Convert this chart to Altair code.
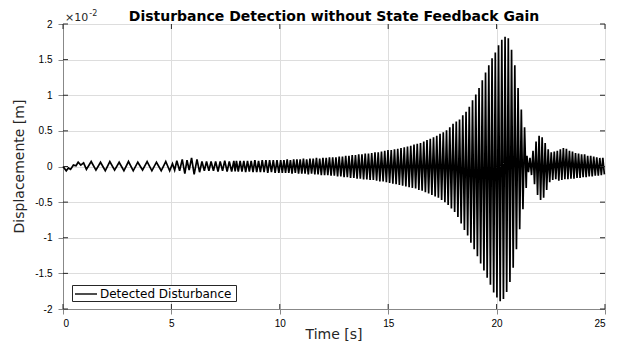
import altair as alt
import pandas as pd

# ---- data (units of 1e-2 m) ----
# 0-5 s: start-up wiggle and slow oscillation (extrema)
t_a = [0.00, 0.15, 0.25, 0.35, 0.48, 0.60, 0.70, 0.82, 0.95, 1.08, 1.30, 1.52, 1.73, 1.95,
       2.16, 2.38, 2.59, 2.81, 3.02, 3.24, 3.45, 3.67, 3.88, 4.10, 4.31, 4.53, 4.74, 4.92]
y_a = [0.00, -0.06, -0.02, -0.04, 0.02, 0.01, 0.06, 0.02, 0.05, -0.04, 0.07, -0.05, 0.06, -0.06,
       0.07, -0.05, 0.06, -0.06, 0.07, -0.06, 0.06, -0.05, 0.07, -0.06, 0.06, -0.06, 0.07, -0.06]

# 5-8 s: irregular burst then faster oscillation
t_b = [5.05, 5.15, 5.25, 5.38, 5.50, 5.62, 5.72, 5.82, 5.93, 6.05, 6.18, 6.30, 6.41, 6.52,
       6.62, 6.73, 6.83, 6.94, 7.04, 7.15, 7.25, 7.36, 7.46, 7.57, 7.67, 7.78, 7.88, 7.94]
y_b = [0.04, -0.05, 0.08, -0.06, 0.10, -0.10, 0.09, -0.05, 0.12, -0.11, 0.10, -0.08, 0.07, -0.06,
       0.07, -0.06, 0.07, -0.06, 0.07, -0.07, 0.07, -0.06, 0.08, -0.07, 0.07, -0.07, 0.08, -0.07]

# 8-10 s
t_c = [8.00, 8.085, 8.17, 8.255, 8.34, 8.425, 8.51, 8.595, 8.68, 8.765, 8.85, 8.935,
       9.02, 9.105, 9.19, 9.275, 9.36, 9.445, 9.53, 9.615, 9.70, 9.785, 9.87, 9.955]
y_c = [0.08, -0.07, 0.08, -0.07, 0.08, -0.08, 0.08, -0.07, 0.08, -0.08, 0.09, -0.08,
       0.08, -0.08, 0.09, -0.08, 0.09, -0.09, 0.09, -0.08, 0.09, -0.09, 0.09, -0.09]

# 10-21.4 s: growing resonance (peaks and troughs)
peak_t_d = [10.04, 10.19, 10.34, 10.49, 10.64, 10.79, 10.94, 11.09, 11.24, 11.39,
            11.54, 11.69, 11.84, 11.99, 12.14, 12.29, 12.44, 12.59, 12.74, 12.89,
            13.04, 13.19, 13.34, 13.49, 13.64, 13.79, 13.94, 14.09, 14.24, 14.39,
            14.54, 14.69, 14.84, 14.99, 15.14, 15.29, 15.44, 15.59, 15.74, 15.89,
            16.04, 16.19, 16.34, 16.49, 16.64, 16.79, 16.94, 17.09, 17.24, 17.39,
            17.54, 17.69, 17.84, 17.99, 18.14, 18.29, 18.44, 18.59, 18.74, 18.89,
            19.04, 19.19, 19.34, 19.49, 19.64, 19.79, 19.94, 20.09, 20.24, 20.39,
            20.54, 20.69, 20.84, 20.99, 21.14, 21.29]
peak_y_d = [0.09, 0.09, 0.10, 0.09, 0.10, 0.10, 0.10, 0.11, 0.10, 0.11,
            0.11, 0.12, 0.11, 0.12, 0.12, 0.13, 0.13, 0.13, 0.14, 0.14,
            0.15, 0.15, 0.16, 0.16, 0.17, 0.17, 0.18, 0.18, 0.19, 0.20,
            0.20, 0.21, 0.22, 0.23, 0.23, 0.24, 0.25, 0.26, 0.27, 0.28,
            0.29, 0.31, 0.32, 0.33, 0.35, 0.37, 0.39, 0.41, 0.43, 0.46,
            0.48, 0.51, 0.55, 0.60, 0.63, 0.66, 0.72, 0.77, 0.84, 0.93,
            1.01, 1.10, 1.21, 1.32, 1.42, 1.52, 1.60, 1.70, 1.78, 1.82,
            1.80, 1.64, 1.42, 1.10, 0.80, 0.55]
trough_t_d = [10.115, 10.265, 10.415, 10.565, 10.715, 10.865, 11.015, 11.165, 11.315, 11.465,
              11.615, 11.765, 11.915, 12.065, 12.215, 12.365, 12.515, 12.665, 12.815, 12.965,
              13.115, 13.265, 13.415, 13.565, 13.715, 13.865, 14.015, 14.165, 14.315, 14.465,
              14.615, 14.765, 14.915, 15.065, 15.215, 15.365, 15.515, 15.665, 15.815, 15.965,
              16.115, 16.265, 16.415, 16.565, 16.715, 16.865, 17.015, 17.165, 17.315, 17.465,
              17.615, 17.765, 17.915, 18.065, 18.215, 18.365, 18.515, 18.665, 18.815, 18.965,
              19.115, 19.265, 19.415, 19.565, 19.715, 19.865, 20.015, 20.165, 20.315, 20.465,
              20.615, 20.765, 20.915, 21.065, 21.215, 21.365]
trough_y_d = [-0.09, -0.09, -0.09, -0.10, -0.09, -0.10, -0.10, -0.10, -0.11, -0.10,
              -0.11, -0.11, -0.12, -0.12, -0.12, -0.13, -0.13, -0.14, -0.14, -0.15,
              -0.15, -0.16, -0.16, -0.17, -0.17, -0.18, -0.18, -0.19, -0.19, -0.20,
              -0.21, -0.21, -0.22, -0.23, -0.24, -0.25, -0.26, -0.27, -0.28, -0.29,
              -0.30, -0.31, -0.33, -0.34, -0.36, -0.38, -0.40, -0.42, -0.44, -0.47,
              -0.50, -0.54, -0.59, -0.64, -0.71, -0.80, -0.89, -0.97, -1.07, -1.16,
              -1.26, -1.36, -1.46, -1.56, -1.66, -1.77, -1.84, -1.89, -1.86, -1.76,
              -1.62, -1.42, -1.16, -0.88, -0.60, -0.30]

# 21.4-25 s: after-burst bump and decay
peak_t_e = [21.40, 21.54, 21.68, 21.82, 21.96, 22.10, 22.24, 22.38, 22.52, 22.66, 22.80, 22.94, 23.08,
            23.22, 23.36, 23.50, 23.64, 23.78, 23.92, 24.06, 24.20, 24.34, 24.48, 24.62, 24.76, 24.90]
peak_y_e = [0.15, 0.12, 0.22, 0.35, 0.43, 0.41, 0.33, 0.24, 0.20, 0.21, 0.22, 0.24, 0.26,
            0.25, 0.22, 0.21, 0.19, 0.18, 0.17, 0.17, 0.15, 0.15, 0.14, 0.13, 0.12, 0.12]
trough_t_e = [21.47, 21.61, 21.75, 21.89, 22.03, 22.17, 22.31, 22.45, 22.59, 22.73, 22.87, 23.01, 23.15,
              23.29, 23.43, 23.57, 23.71, 23.85, 23.99, 24.13, 24.27, 24.41, 24.55, 24.69, 24.83, 24.97]
trough_y_e = [-0.08, -0.12, -0.25, -0.40, -0.47, -0.44, -0.33, -0.22, -0.19, -0.18, -0.20, -0.19, -0.18,
              -0.18, -0.17, -0.17, -0.16, -0.16, -0.15, -0.15, -0.14, -0.14, -0.13, -0.13, -0.12, -0.11]

x_ticks = [0, 5, 10, 15, 20, 25]
y_ticks = [-2, -1.5, -1, -0.5, 0, 0.5, 1, 1.5, 2]
series_name = "Detected Disturbance"
title_text = "Disturbance Detection without State Feedback Gain"
x_title = "Time [s]"
y_title = "Displacemente [m]"

ts = t_a + t_b + t_c + peak_t_d + trough_t_d + peak_t_e + trough_t_e
vs = y_a + y_b + y_c + peak_y_d + trough_y_d + peak_y_e + trough_y_e
df = pd.DataFrame({"t": ts, "y": vs}).sort_values("t").reset_index(drop=True)

FONT = "DejaVu Sans"
AX = "#262626"
W, H = 542, 285

xs = alt.Scale(domain=[0, 25], nice=False, zero=False)
ysc = alt.Scale(domain=[-2, 2], nice=False, zero=False)
x_axis = alt.Axis(values=x_ticks, format="~g", labelPadding=4, labelOverlap=False)
y_axis = alt.Axis(values=y_ticks, format="~g", labelPadding=6, labelOverlap=False)
X = alt.X("t:Q", scale=xs, title=None, axis=x_axis)
Y = alt.Y("y:Q", scale=ysc, title=None, axis=y_axis)

line = alt.Chart(df).mark_line(color="black", strokeWidth=1.7).encode(x=X, y=Y)

# tick marks drawn inward on all four sides (same encodings so the axes merge cleanly)
xt = pd.DataFrame({"t": x_ticks})
yt = pd.DataFrame({"y": y_ticks})
tick_style = dict(color=AX, strokeWidth=1)
bottom_ticks = alt.Chart(xt).mark_rule(**tick_style).encode(
    x=X, y=alt.value(H), y2=alt.value(H - 5))
top_ticks = alt.Chart(xt).mark_rule(**tick_style).encode(
    x=X, y=alt.value(0), y2=alt.value(5))
left_ticks = alt.Chart(yt).mark_rule(**tick_style).encode(
    y=Y, x=alt.value(0), x2=alt.value(5))
right_ticks = alt.Chart(yt).mark_rule(**tick_style).encode(
    y=Y, x=alt.value(W), x2=alt.value(W - 5))

one = pd.DataFrame({"a": [0]})


def label(text, x, y, size, weight="normal", color=AX, align="left", baseline="alphabetic", angle=0):
    return alt.Chart(one).mark_text(font=FONT, fontSize=size, fontWeight=weight, color=color,
                                    align=align, baseline=baseline, angle=angle).encode(
        x=alt.value(x), y=alt.value(y), text=alt.value(text))


title_mark = label(title_text, W / 2, -3.0, 14, weight="bold", color="black", align="center")
x_title_mark = label(x_title, W / 2, 314.5, 14, align="center")
y_title_mark = label(y_title, -43, H / 2, 14, align="center", baseline="middle", angle=270)
exp_base = label("×10", 2, -3.3, 11)
exp_pow = label("-2", 26.3, -8, 8)

leg_box = alt.Chart(one).mark_rect(fill="white", stroke=AX, strokeWidth=1).encode(
    x=alt.value(9.5), x2=alt.value(173.5), y=alt.value(261.5), y2=alt.value(277.5))
leg_line = alt.Chart(one).mark_rule(color="black", strokeWidth=1.4).encode(
    x=alt.value(12), x2=alt.value(34), y=alt.value(270))
leg_text = label(series_name, 37, 270, 12, color="black", baseline="middle")

chart = alt.layer(
    line, bottom_ticks, top_ticks, left_ticks, right_ticks,
    title_mark, x_title_mark, y_title_mark, exp_base, exp_pow,
    leg_box, leg_line, leg_text
).properties(
    width=W, height=H,
    autosize=alt.AutoSizeParams(type="none"),
    padding={"left": 55, "top": 16, "right": 17, "bottom": 32},
).configure_view(
    stroke=AX, strokeWidth=1
).configure_axis(
    labelFont=FONT, labelFontSize=12.5, labelColor=AX,
    gridColor="#e4e4e4", gridWidth=1, domain=False, ticks=False,
).configure(
    background="white",
    locale={"number": {"decimal": ".", "thousands": ",", "grouping": [3],
                       "currency": ["", ""], "minus": "-"}},
)

chart.save("out.html", embed_options={"renderer": "svg", "actions": False})
